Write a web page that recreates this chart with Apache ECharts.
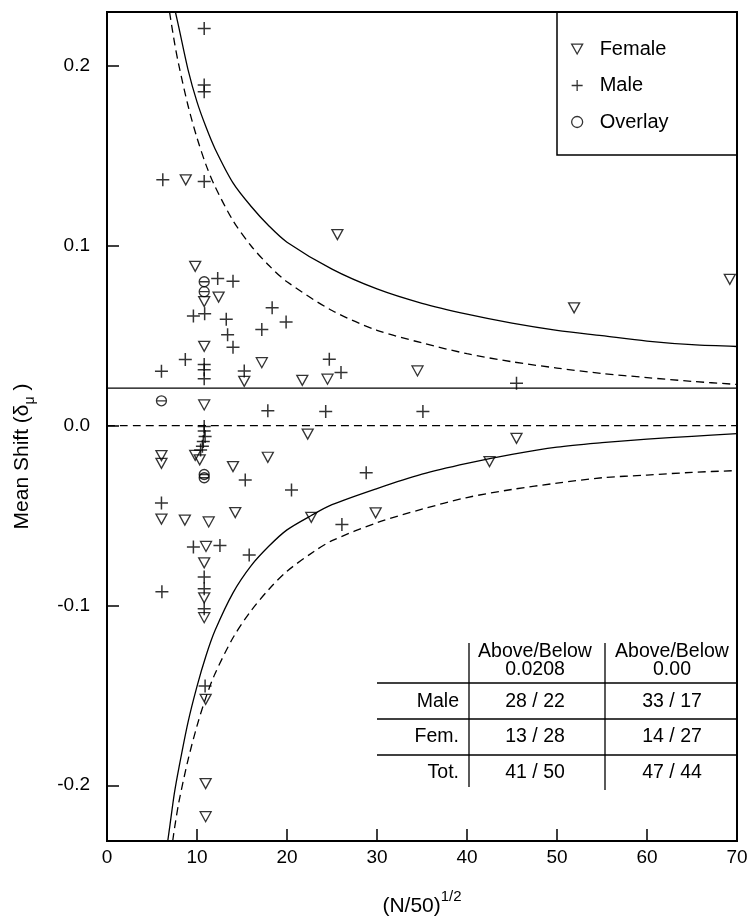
<!DOCTYPE html>
<html>
<head>
<meta charset="utf-8">
<script src="https://cdn.jsdelivr.net/npm/echarts@6/dist/echarts.min.js"></script>
<style>
html,body{margin:0;padding:0;background:#fff;}
#chart{width:753px;height:922px;}
</style>
</head>
<body>
<div id="chart"></div>
<script>
// ---------- data ----------
const xTickValues = [0, 10, 20, 30, 40, 50, 60, 70];
const yTickValues = [-0.2, -0.1, 0.0, 0.1, 0.2];

const femaleData = [
  [8.75, 0.1367], [9.8, 0.0886], [12.4, 0.0715], [10.8, 0.0690], [10.8, 0.0441], [17.2, 0.0350],
  [15.25, 0.0246], [21.7, 0.0252], [24.5, 0.0258], [34.5, 0.0304], [25.6, 0.1062],
  [51.9, 0.0655], [69.2, 0.0813], [10.8, 0.0115], [22.3, -0.0047], [45.5, -0.0071],
  [42.5, -0.0200], [6.05, -0.0167], [6.05, -0.0210], [9.8, -0.0165], [10.3, -0.0190],
  [14.0, -0.0228], [17.87, -0.0176], [6.05, -0.0520], [8.65, -0.0525], [11.3, -0.0536],
  [14.25, -0.0484], [22.7, -0.0510], [29.85, -0.0485], [11.0, -0.0672], [10.8, -0.0763],
  [10.8, -0.0958], [10.8, -0.1068], [10.96, -0.1522], [10.96, -0.1991], [10.96, -0.2175]
];

const maleData = [
  [10.8, 0.2208], [10.8, 0.1894], [10.8, 0.1857], [6.2, 0.1367], [10.8, 0.1358],
  [12.3, 0.0818], [14.0, 0.0803], [9.6, 0.0609], [10.85, 0.0622], [13.25, 0.0592],
  [13.4, 0.0505], [14.0, 0.0436], [18.35, 0.0655], [19.9, 0.0576], [17.2, 0.0535],
  [8.7, 0.0367], [10.8, 0.0340], [10.8, 0.0311], [10.8, 0.0260], [6.05, 0.0302],
  [15.25, 0.0303], [24.7, 0.0369], [26.0, 0.0295], [45.5, 0.0236], [17.87, 0.0082],
  [24.3, 0.0079], [35.1, 0.0079], [10.8, -0.0005], [10.8, -0.0030], [10.9, -0.0060],
  [10.7, -0.0088], [10.6, -0.0115], [10.4, -0.0135], [15.36, -0.0303], [20.5, -0.0358],
  [28.8, -0.0262], [6.05, -0.0430], [9.6, -0.0675], [12.55, -0.0667], [15.8, -0.0720],
  [10.8, -0.0842], [10.8, -0.0907], [10.8, -0.1018], [6.1, -0.0924], [10.9, -0.1448],
  [26.1, -0.0550]
];

const overlayData = [
  [10.8, 0.0800], [10.8, 0.0745], [6.05, 0.0138], [10.8, -0.0272], [10.8, -0.0290]
];

const refLineUpper = [[0, 0.0208], [70, 0.0208]];
const refLineZero = [[0, 0.0], [70, 0.0]];

const upperSolid = [
  [7.6, 0.230], [8, 0.221], [9, 0.198], [10, 0.180], [11, 0.166], [12, 0.154], [14, 0.135],
  [16, 0.122], [18, 0.111], [20, 0.102], [25, 0.087], [30, 0.076], [35, 0.068], [40, 0.062],
  [45, 0.057], [50, 0.053], [55, 0.050], [60, 0.047], [65, 0.045], [70, 0.044]
];
const upperDashed = [
  [6.95, 0.230], [7.5, 0.213], [8, 0.200], [9, 0.178], [10, 0.160], [11, 0.145], [12, 0.133],
  [14, 0.114], [16, 0.100], [18, 0.089], [20, 0.080], [25, 0.064], [30, 0.053], [35, 0.046],
  [40, 0.040], [45, 0.0355], [50, 0.032], [55, 0.029], [60, 0.0267], [65, 0.0246], [70, 0.0229]
];
const lowerSolid = [
  [6.75, -0.231], [7, -0.222], [7.5, -0.204], [8, -0.190], [9, -0.165], [10, -0.145],
  [11, -0.128], [12, -0.114], [14, -0.093], [16, -0.078], [18, -0.067], [20, -0.058],
  [22.7, -0.050], [25, -0.044], [30, -0.035], [35, -0.027], [40, -0.021], [45, -0.016],
  [50, -0.012], [55, -0.0095], [60, -0.0075], [65, -0.006], [70, -0.0045]
];
const lowerDashed = [
  [7.3, -0.231], [7.5, -0.224], [8, -0.209], [9, -0.186], [10, -0.167], [11, -0.151],
  [12, -0.138], [14, -0.118], [16, -0.103], [18, -0.091], [20, -0.081], [23, -0.070],
  [25, -0.064], [30, -0.054], [35, -0.0465], [40, -0.040], [45, -0.0355], [50, -0.032],
  [55, -0.029], [60, -0.0275], [65, -0.026], [70, -0.025]
];

const legendNames = ['Female', 'Male', 'Overlay'];
const tableHeaderTop = ['Above/Below', 'Above/Below'];
const tableHeaderBottom = ['0.0208', '0.00'];
const tableRowLabels = ['Male', 'Fem.', 'Tot.'];
const tableCol1 = ['28 / 22', '13 / 28', '41 / 50'];
const tableCol2 = ['33 / 17', '14 / 27', '47 / 44'];

// ---------- styles ----------
const FONT = '"Liberation Sans", Arial, Helvetica, sans-serif';
const triPath = 'path://M0,0L10,0L5,9Z';
const plusPath = 'path://M5,0L5,10M0,5L10,5';
const overlayPath = 'path://M0,5A5,5 0 1,0 10,5A5,5 0 1,0 0,5ZM0,5L10,5';
const circlePath = 'path://M0,5A5,5 0 1,0 10,5A5,5 0 1,0 0,5Z';
const openStyle = {color: 'rgba(0,0,0,0)', borderColor: '#000', borderWidth: 1.3};

function lineSeries(name, data, type) {
  return {
    name: name, type: 'line', data: data, symbol: 'none', smooth: 0.3,
    silent: true, z: 2,
    lineStyle: {color: '#000', width: 1.3, type: type},
    emphasis: {disabled: true}
  };
}

// ---------- table graphics ----------
const graphics = [];
graphics.push({type: 'rect', shape: {x: 557, y: 12, width: 180, height: 143},
  style: {fill: 'none', stroke: '#000', lineWidth: 1.5}, z: 10});
[683, 719, 755].forEach(function (y) {
  graphics.push({type: 'line', shape: {x1: 377, y1: y, x2: 737, y2: y},
    style: {stroke: '#000', lineWidth: 1.5}, z: 10});
});
graphics.push({type: 'line', shape: {x1: 469, y1: 643, x2: 469, y2: 787}, style: {stroke: '#000', lineWidth: 1.3}, z: 10});
graphics.push({type: 'line', shape: {x1: 605, y1: 643, x2: 605, y2: 790}, style: {stroke: '#000', lineWidth: 1.3}, z: 10});
const colCenters = [535, 672];
const rowYs = [702, 737, 773];
function txt(s, x, y, align) {
  return {type: 'text', z: 11, style: {text: s, x: x, y: y, textAlign: align || 'center',
    textVerticalAlign: 'middle', font: '19.5px ' + FONT, fill: '#000'}};
}
for (let c = 0; c < 2; c++) {
  graphics.push(txt(tableHeaderTop[c], colCenters[c], 652));
  graphics.push(txt(tableHeaderBottom[c], colCenters[c], 670));
}
for (let r = 0; r < 3; r++) {
  graphics.push(txt(tableRowLabels[r], 459, rowYs[r], 'right'));
  graphics.push(txt(tableCol1[r], colCenters[0], rowYs[r]));
  graphics.push(txt(tableCol2[r], colCenters[1], rowYs[r]));
}

const chart = echarts.init(document.getElementById('chart'), null, {renderer: 'canvas'});
chart.setOption({
  backgroundColor: '#fff',
  animation: false,
  grid: {left: 107, right: 16, top: 12, bottom: 80, show: true, borderColor: '#000', borderWidth: 2, containLabel: false},
  xAxis: {
    type: 'value', min: 0, max: 70, interval: 10,
    axisLine: {onZero: false, lineStyle: {color: '#000', width: 2}},
    axisTick: {inside: true, length: 12, lineStyle: {color: '#000', width: 1.5}},
    axisLabel: {color: '#000', fontSize: 19, fontFamily: FONT, margin: 7},
    splitLine: {show: false},
    name: '{a|(N/50)}{b|1/2}',
    nameLocation: 'middle', nameGap: 48,
    nameTextStyle: {
      rich: {
        a: {fontSize: 21, fontFamily: FONT, color: '#000', lineHeight: 28, verticalAlign: 'bottom'},
        b: {fontSize: 15, fontFamily: FONT, color: '#000', lineHeight: 28, verticalAlign: 'top'}
      }
    }
  },
  yAxis: {
    type: 'value', min: -0.231, max: 0.23,
    axisLine: {onZero: false, lineStyle: {color: '#000', width: 2}},
    axisTick: {inside: true, length: 12, customValues: yTickValues, lineStyle: {color: '#000', width: 1.5}},
    axisLabel: {color: '#000', fontSize: 19, fontFamily: FONT, margin: 17, customValues: yTickValues,
      formatter: function (v) { return v.toFixed(1); }},
    splitLine: {show: false},
    name: '{a|Mean Shift (δ}{s|μ}{a| )}',
    nameLocation: 'middle', nameGap: 70, nameRotate: 90,
    nameTextStyle: {
      padding: [0, 60, 0, 0],
      rich: {
        a: {fontSize: 21, fontFamily: FONT, color: '#000', lineHeight: 25, verticalAlign: 'top'},
        s: {fontSize: 14, fontFamily: FONT, color: '#000', lineHeight: 25, verticalAlign: 'bottom'}
      }
    }
  },
  legend: {
    orient: 'vertical', left: 566, top: 34, itemGap: 16.5, itemWidth: 11, itemHeight: 11,
    selectedMode: false,
    textStyle: {fontSize: 20, fontFamily: FONT, color: '#000', padding: [0, 0, 0, 12]},
    data: [
      {name: legendNames[0], icon: triPath, itemStyle: openStyle},
      {name: legendNames[1], icon: plusPath, itemStyle: openStyle},
      {name: legendNames[2], icon: circlePath, itemStyle: openStyle}
    ]
  },
  graphic: graphics,
  series: [
    lineSeries('refUpper', refLineUpper, 'solid'),
    lineSeries('refZero', refLineZero, [8, 5]),
    lineSeries('upperSolid', upperSolid, 'solid'),
    lineSeries('upperDashed', upperDashed, [8, 5]),
    lineSeries('lowerSolid', lowerSolid, 'solid'),
    lineSeries('lowerDashed', lowerDashed, [8, 5]),
    {name: legendNames[0], type: 'scatter', data: femaleData, symbol: triPath, symbolSize: [11, 10],
      itemStyle: openStyle, z: 5, emphasis: {disabled: true}},
    {name: legendNames[1], type: 'scatter', data: maleData, symbol: plusPath, symbolSize: 13,
      itemStyle: {color: 'rgba(0,0,0,0)', borderColor: '#000', borderWidth: 1.5}, z: 5, emphasis: {disabled: true}},
    {name: legendNames[2], type: 'scatter', data: overlayData, symbol: overlayPath, symbolSize: 10,
      itemStyle: openStyle, z: 5, emphasis: {disabled: true}}
  ]
});
</script>
</body>
</html>
